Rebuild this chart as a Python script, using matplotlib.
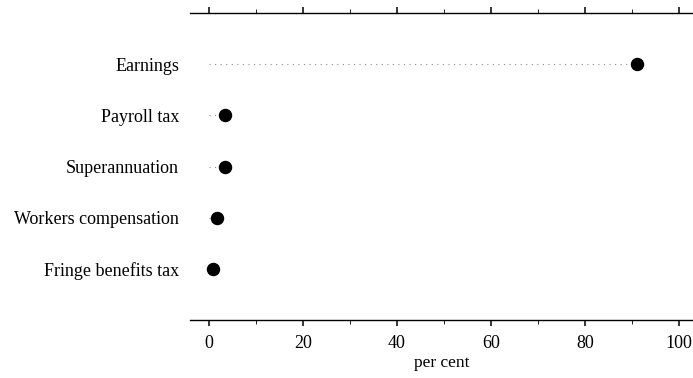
import numpy as np
import matplotlib.pyplot as plt

# Labour cost components (per cent)
categories = ['Earnings', 'Payroll tax', 'Superannuation',
              'Workers compensation', 'Fringe benefits tax']
values = [91.0, 3.4, 3.5, 1.6, 0.9]

plt.rcParams['font.family'] = ['Liberation Serif', 'DejaVu Serif']

fig = plt.figure(figsize=(6.93, 3.78), dpi=100)
ax = fig.add_axes([0.2745, 0.1534, 0.7255, 0.8122])

ypos = np.arange(len(categories), 0, -1)

# dotted guide lines from the axis to each point
for y, v in zip(ypos, values):
    ax.plot([0, v], [y, y], color='0.55', linestyle=(0, (1, 4)), linewidth=0.8, zorder=1)

ax.scatter(values, ypos, s=75, color='black', zorder=3)

ax.set_xlim(-4, 103)
ax.set_ylim(0, 6)
ax.set_xticks([0, 20, 40, 60, 80, 100])
ax.set_xticks(np.arange(10, 101, 20), minor=True)
ax.set_yticks(ypos)
ax.set_yticklabels(categories, fontsize=13)
ax.tick_params(axis='y', length=0, pad=8)
ax.tick_params(axis='x', which='both', top=True, direction='out', labelsize=13, pad=7)
ax.tick_params(axis='x', which='major', length=4, width=1.1)
ax.tick_params(axis='x', which='minor', length=3)

ax.spines['left'].set_visible(False)
ax.spines['right'].set_visible(False)
for s in ('top', 'bottom'):
    ax.spines[s].set_linewidth(1.0)

ax.set_xlabel('per cent', fontsize=12.5, labelpad=2)

fig.savefig('out.png', dpi=100)
